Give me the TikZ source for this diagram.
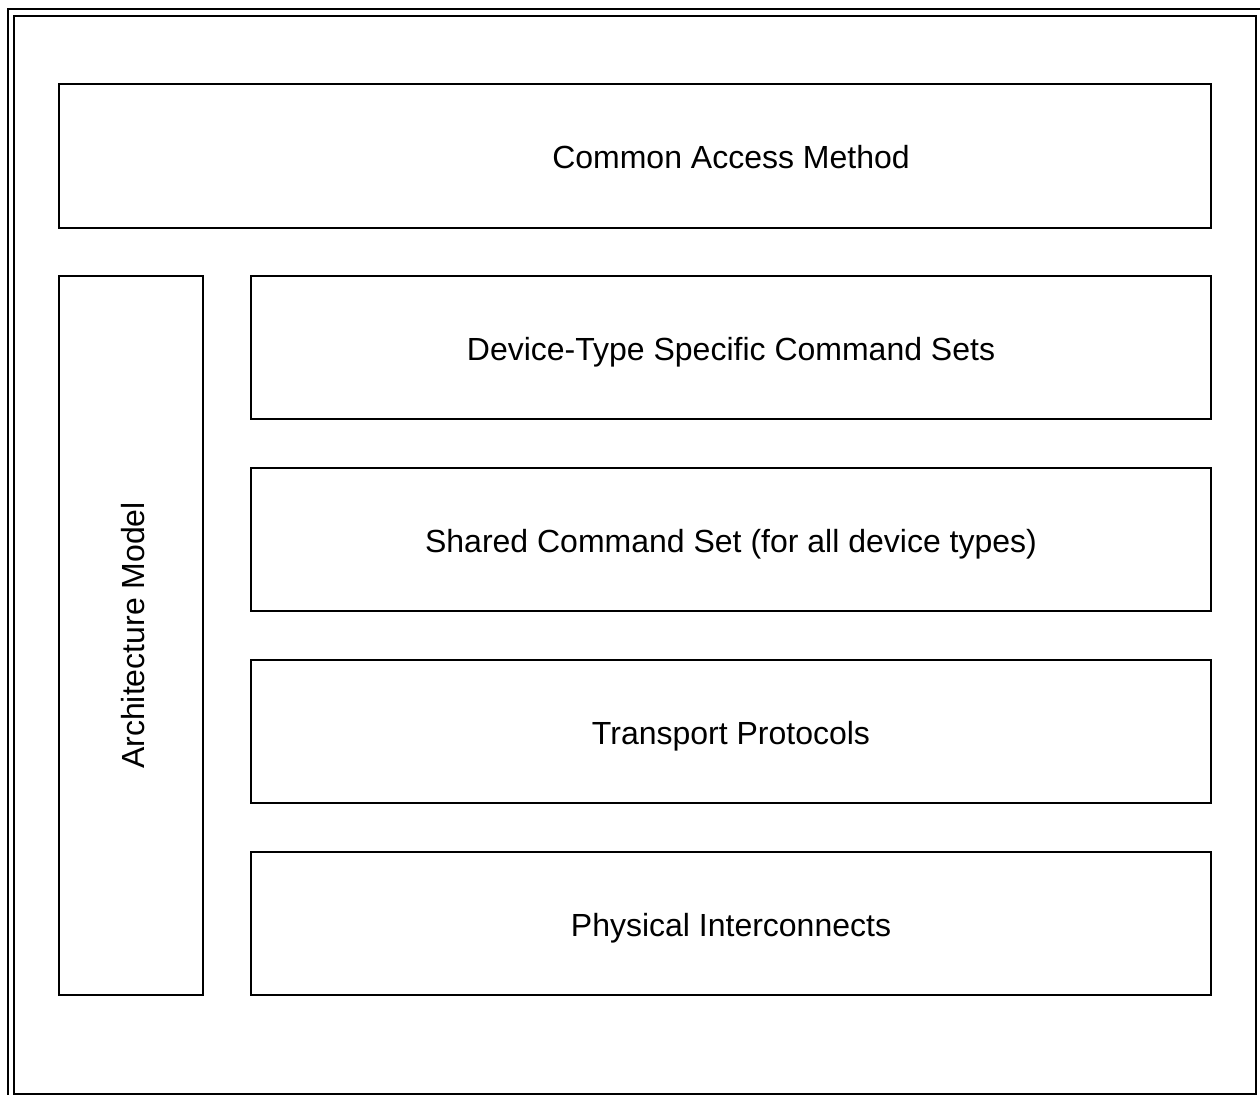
\documentclass[tikz,border=0pt]{standalone}
\usepackage{fontspec}
\setmainfont{Liberation Sans}
\begin{document}
\begin{tikzpicture}[x=0.5pt,y=-0.5pt,line width=1pt,
  layer/.style={draw,rectangle,inner sep=0pt,minimum width=480pt,minimum height=71.5pt,
    text height=14pt,text depth=1pt,font=\fontsize{16}{19}\selectfont},
  caption/.style={inner sep=0pt,text height=14pt,text depth=1pt,font=\fontsize{16}{19}\selectfont}]
\useasboundingbox (0,0) rectangle (1260,1095);
% outer frame
\draw (8,1100) -- (8,9) -- (1265,9);
\draw (14,16) rectangle (1256,1094);
% layers
\node[layer,minimum width=576pt,minimum height=72pt] (cam) at (635,156) {};
\node[caption] (camtext) at (731,156) {Common Access Method};
\node[layer,rotate=90,minimum width=359.5pt,minimum height=72pt] (arch) at (131,635.5) {Architecture Model};
\node[layer] (devtype) at (731,347.5) {Device-Type Specific Command Sets};
\node[layer] (shared) at (731,539.5) {Shared Command Set (for all device types)};
\node[layer] (transport) at (731,731.5) {Transport Protocols};
\node[layer] (physical) at (731,923.5) {Physical Interconnects};
\end{tikzpicture}
\end{document}
